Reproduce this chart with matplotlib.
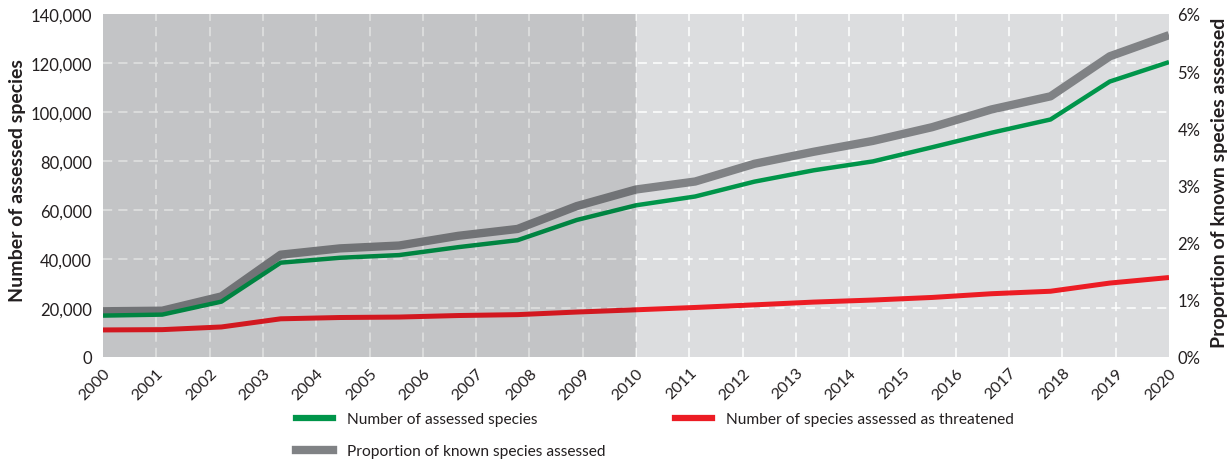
import numpy as np
import matplotlib
matplotlib.use("Agg")
import matplotlib.pyplot as plt
from matplotlib.lines import Line2D
from matplotlib.ticker import FuncFormatter

plt.rcParams['font.family'] = ['Lato', 'DejaVu Sans']

# ---- data ----
year_labels = [str(y) for y in range(2000, 2021)]
assessed = [16900, 17300, 22600, 38500, 40500, 41600, 44838, 47677, 55926, 61914,
            65518, 71576, 76199, 79837, 85604, 91523, 96951, 112432, 120372]
threatened = [11046, 11167, 12259, 15589, 16118, 16306, 16928, 17291, 18351, 19265,
              20219, 21286, 22413, 23250, 24307, 25821, 26840, 30178, 32441]
proportion = [0.80, 0.81, 1.06, 1.79, 1.90, 1.95, 2.12, 2.24, 2.64, 2.93,
              3.07, 3.38, 3.59, 3.78, 4.02, 4.33, 4.56, 5.26, 5.63]
left_ticks = [0, 20000, 40000, 60000, 80000, 100000, 120000, 140000]
right_ticks = [0, 1, 2, 3, 4, 5, 6]

GREEN = '#00954a'
RED = '#ec1c24'
GREY = '#808285'
BG = '#dcdddf'
TXT = '#231f20'

fig = plt.figure(figsize=(12.32, 4.60), dpi=100)
ax = fig.add_axes([103/1232, 1-358/460, (1169-103)/1232, (358-15)/460])
ax2 = ax.twinx()

first, last = int(year_labels[0]), int(year_labels[-1])
x = np.linspace(first, last, len(assessed))

ax.set_xlim(first, last)
ax.set_ylim(0, 140000)

# ax (counts) on top, ax2 (proportion) below and carrying the background
ax.set_zorder(2)
ax2.set_zorder(1)
ax.patch.set_visible(False)
ax2.patch.set_visible(True)
ax2.set_facecolor(BG)

# grid (drawn in the lower axes so every line sits above it)
dash = (0, (6, 4))
for yv in left_ticks[1:-1]:
    ax2.plot([first, last], [yv, yv], transform=ax.transData, color='white',
             lw=1.1, ls=dash, zorder=1)
for xv in range(first + 1, last):
    ax2.axvline(xv, color='white', lw=1.1, ls=dash, zorder=1)

ax2.plot(x, proportion, color=GREY, lw=6.0, solid_capstyle='butt', zorder=2)
ax.plot(x, assessed, color=GREEN, lw=3.2, solid_capstyle='butt', zorder=3)
ax.plot(x, threatened, color=RED, lw=3.6, solid_capstyle='butt', zorder=3)
ax2.set_ylim(0, 6)
ax2.set_xlim(first, last)

# darker shading 2000-2010 drawn on top
ax.axvspan(2000, 2010, color='black', alpha=0.11, lw=0, zorder=5)

for a in (ax, ax2):
    for s in a.spines.values():
        s.set_visible(False)
    a.tick_params(length=0)

ax.set_yticks(left_ticks)
ax.yaxis.set_major_formatter(FuncFormatter(lambda v, p: f"{int(v):,}"))
ax.tick_params(axis='y', labelsize=12, pad=8, colors=TXT)
ax2.set_yticks(right_ticks)
ax2.yaxis.set_major_formatter(FuncFormatter(lambda v, p: f"{int(v)}%"))
ax2.tick_params(axis='y', labelsize=12, pad=6, colors=TXT)

ax.set_xticks(range(first, last + 1))
ax.set_xticklabels(year_labels, rotation=45, ha='right', va='top',
                   rotation_mode='anchor', fontsize=11.5, color=TXT)
ax.tick_params(axis='x', pad=6)

fig.text(18/1232, 1-181/460, 'Number of assessed species', rotation=90,
         ha='center', va='center', fontsize=14, fontweight='bold', color=TXT)
fig.text(1219/1232, 1-183/460, 'Proportion of known species assessed', rotation=90,
         ha='center', va='center', fontsize=14, fontweight='bold', color=TXT)

handles = [Line2D([], [], color=GREEN, lw=4.5),
           Line2D([], [], color=GREY, lw=6),
           Line2D([], [], color=RED, lw=4.5)]
labels = ['Number of assessed species', 'Proportion of known species assessed',
          'Number of species assessed as threatened']
fig.legend(handles, labels, ncol=2, loc='upper left',
           bbox_to_anchor=(282/1232, 1-399/460), frameon=False, fontsize=11.2,
           handlelength=2.4, handletextpad=0.9, columnspacing=4.45,
           labelspacing=1.17, labelcolor=TXT)

fig.savefig('out.png', dpi=100)
